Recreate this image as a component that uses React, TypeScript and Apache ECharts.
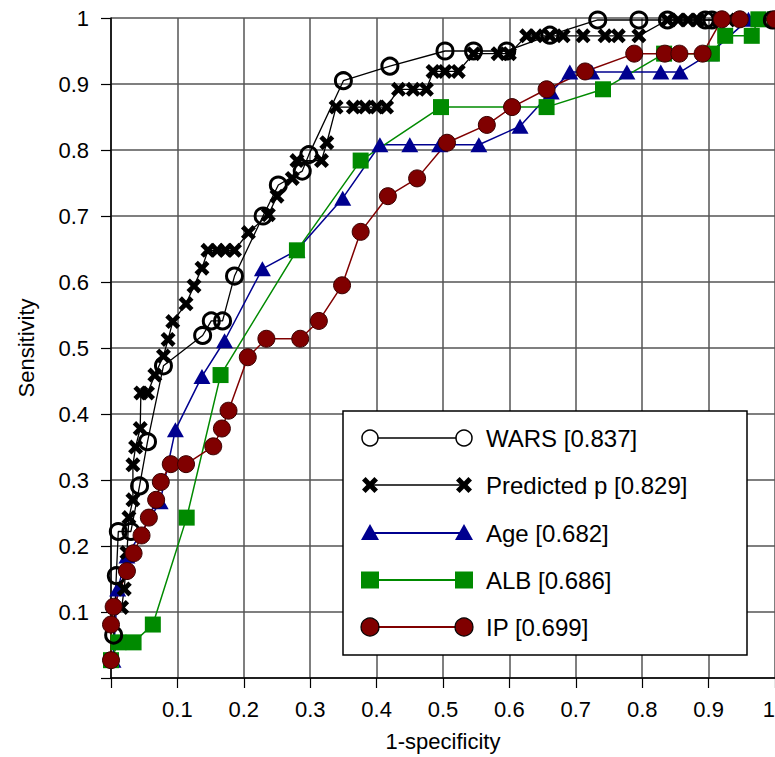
import React, { useEffect, useRef } from 'react';
import * as echarts from 'echarts';

// ---- data (1-specificity, sensitivity) ----
const warsData: [number, number][] = [
  [0.004, 0.065], [0.008, 0.155], [0.011, 0.222], [0.030, 0.222], [0.043, 0.291],
  [0.055, 0.358], [0.079, 0.473], [0.138, 0.519], [0.151, 0.541], [0.168, 0.541],
  [0.186, 0.609], [0.229, 0.700], [0.252, 0.747], [0.288, 0.768], [0.298, 0.793],
  [0.350, 0.905], [0.420, 0.927], [0.503, 0.950], [0.546, 0.950], [0.596, 0.950],
  [0.661, 0.974], [0.733, 0.997], [0.795, 0.997], [0.838, 0.997], [0.895, 0.997],
  [0.905, 0.997], [0.996, 0.997],
];

const predictedData: [number, number][] = [
  [0.016, 0.107], [0.020, 0.135], [0.024, 0.190], [0.027, 0.243], [0.033, 0.270],
  [0.033, 0.323], [0.037, 0.350], [0.044, 0.378], [0.045, 0.432], [0.055, 0.432],
  [0.066, 0.459], [0.079, 0.488], [0.086, 0.513], [0.093, 0.540], [0.113, 0.567],
  [0.125, 0.594], [0.137, 0.621], [0.146, 0.648], [0.160, 0.648], [0.172, 0.648],
  [0.186, 0.648], [0.207, 0.675], [0.237, 0.702], [0.250, 0.730], [0.273, 0.757],
  [0.280, 0.784], [0.317, 0.784], [0.325, 0.811], [0.339, 0.865], [0.365, 0.865],
  [0.383, 0.865], [0.400, 0.865], [0.415, 0.865], [0.433, 0.892], [0.455, 0.892],
  [0.475, 0.892], [0.485, 0.919], [0.503, 0.919], [0.523, 0.919], [0.546, 0.946],
  [0.583, 0.946], [0.600, 0.946], [0.626, 0.973], [0.640, 0.973], [0.661, 0.973],
  [0.681, 0.973], [0.711, 0.973], [0.744, 0.973], [0.764, 0.973], [0.795, 0.973],
  [0.838, 0.997], [0.854, 0.997], [0.869, 0.997], [0.884, 0.997], [0.915, 0.997],
  [0.930, 0.997],
];

const ageData: [number, number][] = [
  [0.003, 0.027], [0.010, 0.135], [0.024, 0.185], [0.074, 0.267], [0.097, 0.376],
  [0.137, 0.457], [0.171, 0.511], [0.228, 0.620], [0.280, 0.648], [0.349, 0.727],
  [0.405, 0.808], [0.450, 0.808], [0.495, 0.808], [0.554, 0.808], [0.616, 0.836],
  [0.663, 0.888], [0.691, 0.918], [0.724, 0.918], [0.777, 0.918], [0.828, 0.918],
  [0.857, 0.918], [0.902, 0.946], [0.960, 0.998], [1.000, 0.998],
];

const albData: [number, number][] = [
  [0.000, 0.027], [0.011, 0.054], [0.034, 0.054], [0.063, 0.081], [0.114, 0.243],
  [0.165, 0.459], [0.280, 0.648], [0.376, 0.784], [0.497, 0.865], [0.656, 0.865],
  [0.741, 0.892], [0.833, 0.946], [0.905, 0.946], [0.925, 0.973], [0.965, 0.973],
  [0.975, 0.998], [1.000, 0.998],
];

const ipData: [number, number][] = [
  [0.000, 0.027], [0.000, 0.081], [0.004, 0.108], [0.024, 0.162], [0.034, 0.189],
  [0.046, 0.216], [0.057, 0.243], [0.068, 0.270], [0.075, 0.297], [0.090, 0.324],
  [0.113, 0.324], [0.154, 0.351], [0.167, 0.378], [0.177, 0.405], [0.206, 0.486],
  [0.234, 0.514], [0.285, 0.514], [0.313, 0.541], [0.348, 0.595], [0.376, 0.676],
  [0.417, 0.730], [0.461, 0.757], [0.506, 0.811], [0.566, 0.838], [0.604, 0.865],
  [0.656, 0.892], [0.714, 0.919], [0.788, 0.946], [0.834, 0.946], [0.856, 0.946],
  [0.891, 0.946], [0.920, 0.998], [0.947, 0.998], [1.000, 0.998],
];

const tickLabels = ['', '0.1', '0.2', '0.3', '0.4', '0.5', '0.6', '0.7', '0.8', '0.9', '1'];
const legendNames = ['WARS [0.837]', 'Predicted p [0.829]', 'Age [0.682]', 'ALB [0.686]', 'IP [0.699]'];

const FONT = "'Liberation Sans', Arial, sans-serif";
const NAVY = '#00008f';
const GREEN = '#008a00';
const DARKRED = '#800000';

const X_PTS = [[0, 3.6], [3.6, 0], [8, 4.4], [12.4, 0], [16, 3.6], [11.6, 8], [16, 12.4], [12.4, 16], [8, 11.6], [3.6, 16], [0, 12.4], [4.4, 8]];
const X_PATH = 'path://M' + X_PTS.map(([a, b]) => `${a},${b}`).join(' L') + ' Z';
const xPolygon = (cx: number, cy: number, s: number) => {
  const k = s / 16;
  return X_PTS.map(([a, b]) => [cx + (a - 8) * k, cy + (b - 8) * k]);
};

function buildLegend() {
  const boxX = 343, boxY = 411, boxW = 404, boxH = 244;
  const x1 = 370, x2 = 464, textX = 486;
  const rows = [438, 485, 533, 580, 627];
  const els: any[] = [
    { type: 'rect', shape: { x: boxX, y: boxY, width: boxW, height: boxH }, style: { fill: '#fff', stroke: '#000', lineWidth: 1.5 }, z: 100 },
  ];
  const lineColors = ['#000', '#000', NAVY, GREEN, DARKRED];
  rows.forEach((y, i) => {
    els.push({ type: 'line', shape: { x1, y1: y, x2, y2: y }, style: { stroke: lineColors[i], lineWidth: i < 2 ? 1.3 : 2 }, z: 101 });
    [x1, x2].forEach((cx) => {
      if (i === 0) els.push({ type: 'circle', shape: { cx, cy: y, r: 8 }, style: { fill: '#fff', stroke: '#000', lineWidth: 1.5 }, z: 102 });
      if (i === 1) els.push({ type: 'polygon', shape: { points: xPolygon(cx, y, 16) }, style: { fill: '#000' }, z: 102 });
      if (i === 2) els.push({ type: 'polygon', shape: { points: [[cx, y - 9], [cx + 9, y + 7], [cx - 9, y + 7]] }, style: { fill: NAVY }, z: 102 });
      if (i === 3) els.push({ type: 'rect', shape: { x: cx - 9, y: y - 8.5, width: 18, height: 17 }, style: { fill: GREEN }, z: 102 });
      if (i === 4) els.push({ type: 'circle', shape: { cx, cy: y, r: 9 }, style: { fill: DARKRED, stroke: '#000', lineWidth: 1.2 }, z: 102 });
    });
    els.push({ type: 'text', x: textX, y, style: { text: legendNames[i], font: `24px ${FONT}`, fill: '#000', verticalAlign: 'middle', align: 'left' }, z: 103 });
  });
  return els;
}

export default function App() {
  const ref = useRef<HTMLDivElement>(null);
  useEffect(() => {
    if (!ref.current) return;
    const chart = echarts.init(ref.current, undefined, { renderer: 'svg' });
    const labelFmt = (v: number) => tickLabels[Math.round(v * 10)] ?? '';
    const axisCommon = {
      type: 'value' as const,
      min: 0,
      max: 1,
      interval: 0.1,
      axisLine: { show: true, lineStyle: { color: '#000', width: 1.5 } },
      axisTick: { show: true, inside: false, length: 10, lineStyle: { color: '#000', width: 1.2 } },
      splitLine: { show: true, lineStyle: { color: '#555', width: 1.5 } },
      nameLocation: 'middle' as const,
    };
    const lineSeries = (name: string, data: [number, number][], extra: any) => ({
      name,
      type: 'line',
      data,
      showSymbol: true,
      clip: false,
      ...extra,
    });
    chart.setOption({
      animation: false,
      backgroundColor: '#fff',
      grid: { left: 111, top: 18, width: 664, height: 663, containLabel: false },
      xAxis: {
        ...axisCommon,
        name: '1-specificity',
        nameGap: 52,
        nameTextStyle: { fontSize: 22, fontFamily: FONT, color: '#000' },
        axisLabel: { formatter: labelFmt, fontSize: 22, fontFamily: FONT, color: '#000', margin: 20, alignMaxLabel: 'right' },
      },
      yAxis: {
        ...axisCommon,
        name: 'Sensitivity',
        nameGap: 74,
        nameRotate: 90,
        nameTextStyle: { fontSize: 22, fontFamily: FONT, color: '#000' },
        axisLabel: { formatter: labelFmt, fontSize: 22, fontFamily: FONT, color: '#000', margin: 22 },
      },
      series: [
        lineSeries('Age', ageData, {
          symbol: 'triangle', symbolSize: [17, 15],
          lineStyle: { color: NAVY, width: 1.5 }, itemStyle: { color: NAVY },
        }),
        lineSeries('ALB', albData, {
          symbol: 'rect', symbolSize: 16,
          lineStyle: { color: GREEN, width: 1.5 }, itemStyle: { color: GREEN },
        }),
        lineSeries('Predicted p', predictedData, {
          symbol: X_PATH, symbolSize: 15,
          lineStyle: { color: '#000', width: 1.3 }, itemStyle: { color: '#000' },
        }),
        lineSeries('WARS', warsData, {
          symbol: 'circle', symbolSize: 16,
          lineStyle: { color: '#000', width: 1.3 },
          itemStyle: { color: 'rgba(0,0,0,0)', borderColor: '#000', borderWidth: 3 },
        }),
        lineSeries('IP', ipData, {
          symbol: 'circle', symbolSize: 17,
          lineStyle: { color: DARKRED, width: 1.5 },
          itemStyle: { color: DARKRED, borderColor: '#3a0000', borderWidth: 1 },
        }),
      ],
      graphic: buildLegend(),
    });
    return () => chart.dispose();
  }, []);
  return (
    <div style={{ position: 'fixed', left: 0, top: 0, width: 775, height: 757, overflow: 'hidden', background: '#fff' }}>
      <div ref={ref} style={{ width: 800, height: 757 }} />
    </div>
  );
}
